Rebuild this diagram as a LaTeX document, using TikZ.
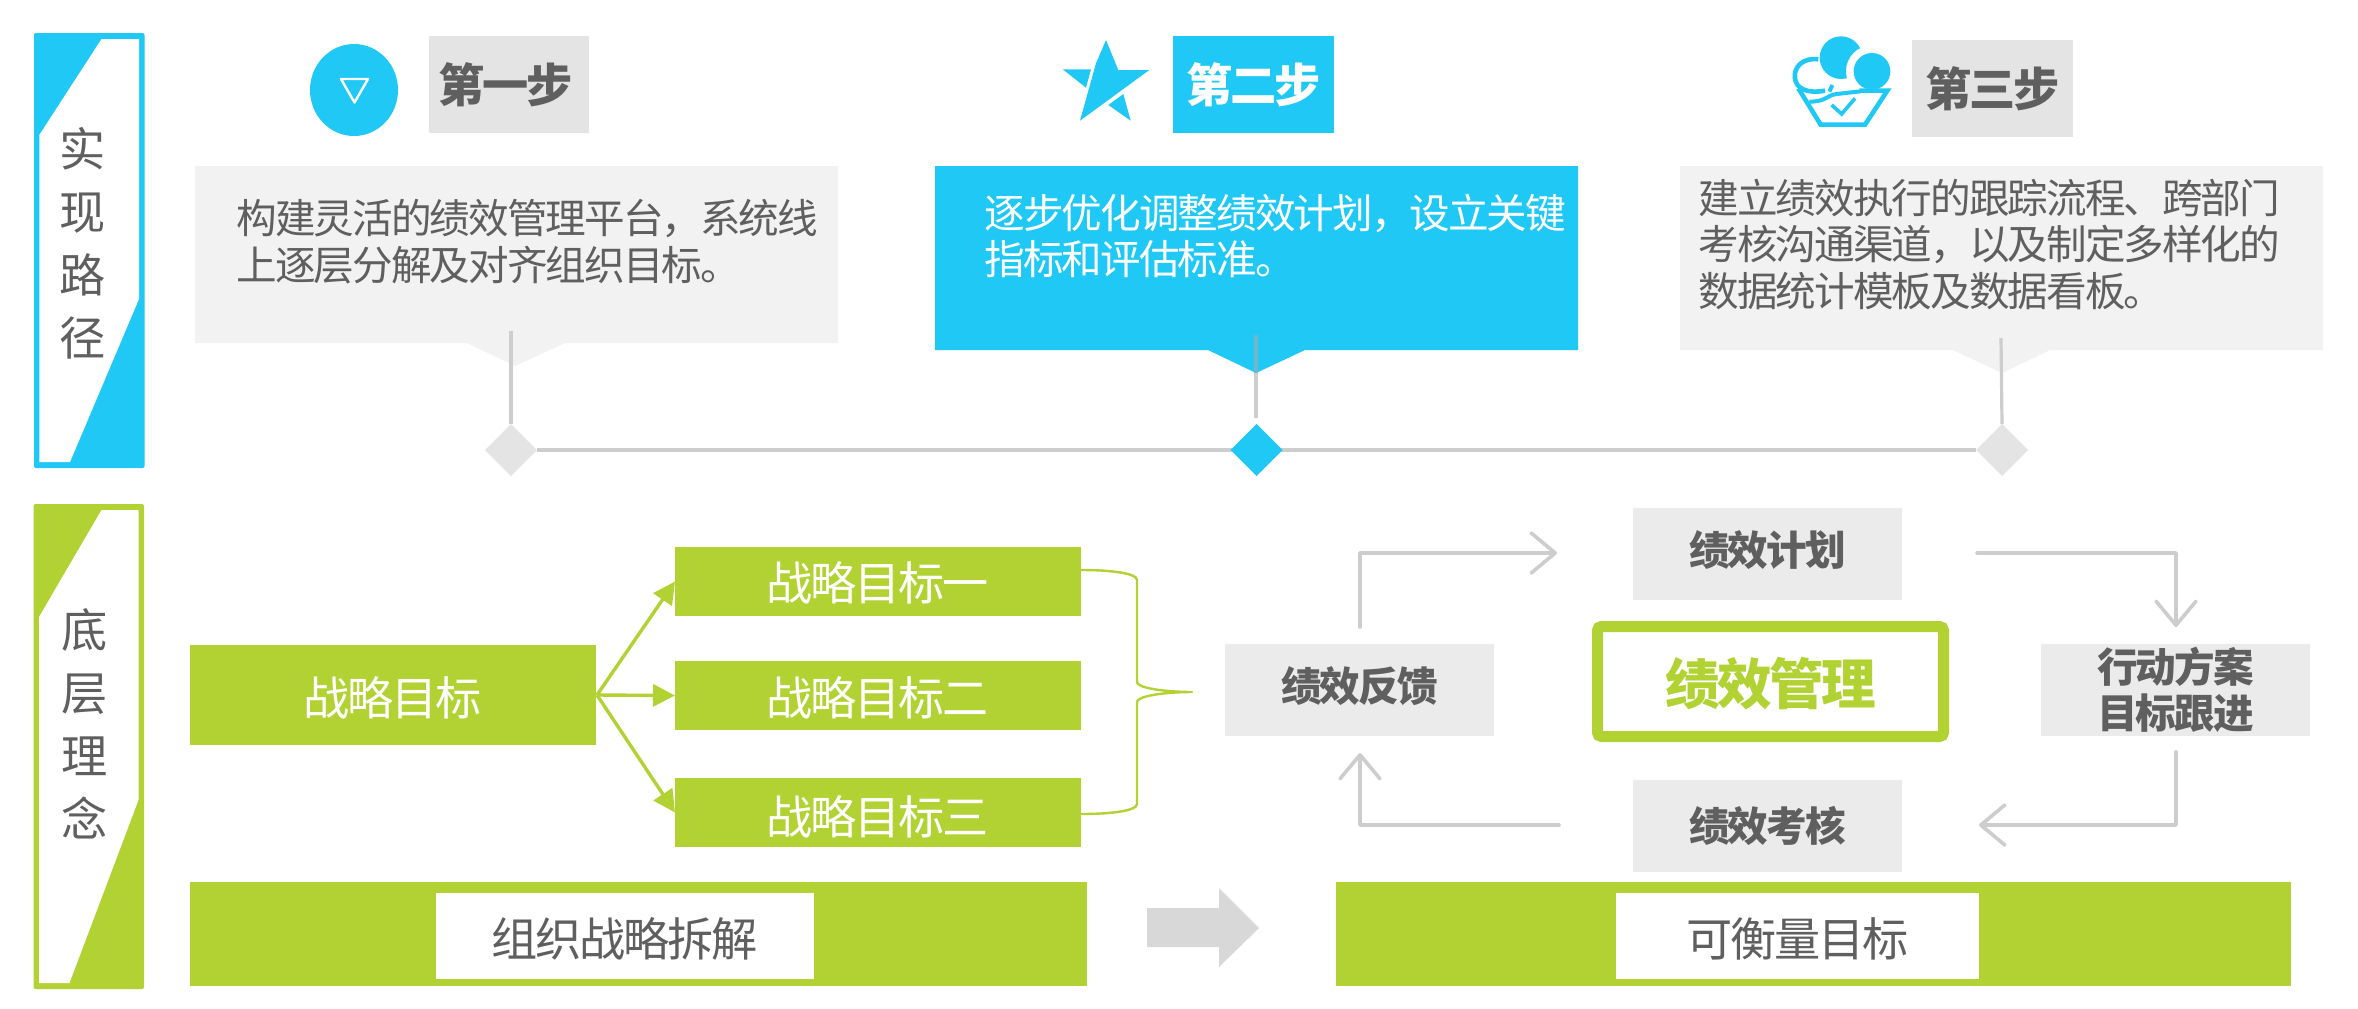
\documentclass[tikz,border=0pt]{standalone}
\usepackage{fontspec}
\setmainfont{Noto Sans CJK SC}[LetterSpace=-4.8]
\usetikzlibrary{shapes.geometric,arrows.meta}
\definecolor{bl}{HTML}{1FC8F5}
\definecolor{gn}{HTML}{B1D232}
\definecolor{tx}{HTML}{5F5F5F}
\definecolor{lg}{HTML}{F2F2F2}
\definecolor{mg}{HTML}{EBEBEB}
\definecolor{hg}{HTML}{E4E4E4}
\definecolor{ln}{HTML}{CDCDCD}
\tikzset{
  sz/.style 2 args={minimum width=#1*0.5pt,minimum height=#2*0.5pt},
  base/.style={inner sep=0pt,outer sep=0pt,text=tx},
  boxn/.style={base,rectangle},
  bigt/.style={base,font=\fontsize{23.1}{31.5}\selectfont,align=center},
  bigs/.style={text height=20.8pt+#1*1pt,text depth=3.2pt-#1*1pt},
  bodyt/.style={base,font=\fontsize{20.3}{23.35}\selectfont,align=left,anchor=west},
  stept/.style={base,font=\bfseries\fontsize{23.1}{26}\selectfont},
  cyct/.style={base,font=\bfseries\fontsize{20.3}{23}\selectfont,align=center},
  cycs/.style={text height=17.7pt+#1*1pt,text depth=2.3pt-#1*1pt},
  dia/.style={base,diamond,aspect=1,minimum width=26pt,minimum height=26pt},
  vline/.style={draw=ln,line width=1.6pt},
  loop/.style={draw=ln,line width=1.8pt,line cap=round,line join=round,-{Straight Barb[length=12pt,width=20pt,line width=1.8pt,round]}},
  garrow/.style={draw=gn,line width=1.7pt,-{Triangle[length=11pt,width=11pt]}}
}
\begin{document}
\begin{tikzpicture}[x=0.5pt,y=-0.5pt]
\useasboundingbox (0,0) rectangle (2358,1008);
\fill[white] (0,0) rectangle (2358,1008);

% side panels
\fill[bl,rounded corners=1pt] (34,33) rectangle (144.5,468);
\fill[white] (101.5,39) -- (139,39) -- (139,299) -- (70,462) -- (39.3,462) -- (39.3,135) -- cycle;
\node[bigt] (side1) at (83,243) {实\\现\\路\\径};
\fill[gn,rounded corners=1pt] (33.5,504) rectangle (144,989);
\fill[white] (101.5,510) -- (138.5,510) -- (138.5,800) -- (69.5,983) -- (39,983) -- (39,617) -- cycle;
\node[bigt] (side2) at (85,724) {底\\层\\理\\念};

% step headers and icons
\fill[bl] (354,90) ellipse (44 and 46);
\draw[white,line width=1.2pt,line join=round] (341,79) -- (368,79) -- (354.5,102.5) -- cycle;
\node[boxn,fill=hg,sz={160}{97},stept] (s1) at (509,84.5) {第一步\hspace*{3pt}};

\fill[bl] (1106,40) -- (1118.3,70) -- (1149.3,70) -- (1080,120.7) -- (1096,63.3) -- cycle;
\fill[bl] (1062.7,69.3) -- (1091,69.3) -- (1086,87.7) -- cycle;
\fill[bl] (1108.3,105) -- (1123.3,94) -- (1130.7,120.7) -- cycle;
\node[boxn,fill=bl,sz={161}{97},stept,text=white] (s2) at (1253.5,84.5) {第二步};

\begin{scope}[shift={(1770,20)},x=0.5pt/3,y=-0.5pt/3]
  \fill[bl] (213,113) circle (64);
  \fill[white] (306,154) circle (78);
  \fill[bl] (306,154) circle (55);
  \draw[bl,line width=2.3pt] (145,118) .. controls (100,112) and (70,140) .. (75,175) .. controls (78,205) and (110,222) .. (165,212);
  \draw[bl,line width=2pt] (187,195) -- (178,215);
  \draw[bl,line width=2.3pt,line join=miter] (85,205) -- (152,314) -- (285,314) -- (352,212) -- (268,212);
  \draw[bl,line width=2pt] (118,245) .. controls (170,245) and (170,225) .. (200,222) -- (272,214);
  \draw[bl,line width=1.8pt] (185,255) -- (215,282) -- (255,235);
\end{scope}
\node[boxn,fill=hg,sz={161}{97},stept] (s3) at (1992.5,88.5) {第三步};

% callouts
\fill[lg] (195,166) -- (838,166) -- (838,343) -- (565,343) -- (515,366) -- (467,343) -- (195,343) -- cycle;
\fill[bl] (935,166) -- (1578,166) -- (1578,350) -- (1305,350) -- (1256,373) -- (1208,350) -- (935,350) -- cycle;
\fill[lg] (1680,166) -- (2323,166) -- (2323,350) -- (2050,350) -- (2002,373) -- (1953,350) -- (1680,350) -- cycle;
\node[bodyt] (t1) at (236.5,241.5) {构建灵活的绩效管理平台，系统线\\上逐层分解及对齐组织目标。};
\node[bodyt,text=white] (t2) at (984.5,236) {逐步优化调整绩效计划，设立关键\\指标和评估标准。};
\node[bodyt] (t3) at (1698.5,244.5) {建立绩效执行的跟踪流程、跨部门\\考核沟通渠道，以及制定多样化的\\数据统计模板及数据看板。};

% timeline
\node[dia,fill=hg] (d1) at (511,450) {};
\node[dia,fill=hg] (d3) at (2002,450) {};
\draw[draw=hg!90!black,line width=1.7pt] (d1.east) -- (d3.west);
\node[dia,fill=bl] (d2) at (1256.5,450) {};
\coordinate (c1) at (511,331);
\coordinate (c2) at (1256,335);
\coordinate (c2a) at (1256,373);
\coordinate (c2b) at (1256,418);
\coordinate (c3) at (2001,338);
\draw[vline] (c1) -- (d1.north);
\draw[vline,draw=ln!55!bl!90!black] (c2) -- (c2a);
\draw[vline] (c2a) -- (c2b);
\draw[vline] (c3) -- (d3.north);

% strategy tree
\node[boxn,fill=gn,sz={406}{100},bigt,bigs=1.5,text=white] (goal) at (393,695) {战略目标};
\node[boxn,fill=gn,sz={406}{69},bigt,bigs=0.75,text=white] (g1) at (878,581.5) {战略目标一};
\node[boxn,fill=gn,sz={406}{69},bigt,bigs=1.25,text=white] (g2) at (878,695.5) {战略目标二};
\node[boxn,fill=gn,sz={406}{69},bigt,bigs=2.25,text=white] (g3) at (878,812.5) {战略目标三};
\coordinate (gs) at (597,695);
\draw[garrow] (gs) -- (g1.west);
\draw[garrow] (gs) -- (g2.west);
\draw[garrow] (gs) -- (g3.west);
\coordinate (brT) at (1081,570);
\coordinate (brB) at (1081,814);
\coordinate (brC) at (1192,692);
\draw[gn,line width=1.2pt,line join=round,line cap=round] (brT) .. controls (1110,570) and (1137,573) .. (1137,580) -- (1137,682) .. controls (1137,688) and (1165,692) .. (brC) .. controls (1165,692) and (1137,696) .. (1137,702) -- (1137,804) .. controls (1137,811) and (1110,814) .. (brB);

% management cycle
\node[boxn,fill=mg,sz={269}{92},cyct,cycs=-2] (fb) at (1359.5,690) {绩效反馈};
\node[boxn,fill=mg,sz={269}{92},cyct,cycs=-2] (pl) at (1767.5,554) {绩效计划};
\node[boxn,fill=mg,sz={269}{92},cyct,cycs=0] (ev) at (1767.5,826) {绩效考核};
\node[boxn,fill=mg,sz={269}{92},cyct] (ac) at (2175.5,690) {行动方案\\目标跟进};
\node[boxn,draw=gn,line width=5.5pt,rounded corners=2pt,fill=white,sz={346}{110},font=\bfseries\fontsize{27.3}{30}\selectfont,text=gn,text height=23.4pt,text depth=-2.4pt] (mg) at (1770.5,681.5) {绩效管理};
\coordinate (a1) at (1360,627);
\coordinate (a1m) at (1360,553);
\coordinate (a1e) at (1557,553);
\coordinate (a2) at (1977,553);
\coordinate (a2m) at (2176,553);
\coordinate (a2e) at (2176,627);
\coordinate (a3) at (2176,752);
\coordinate (a3m) at (2176,825);
\coordinate (a3e) at (1979,825);
\coordinate (a4) at (1559,825);
\coordinate (a4m) at (1360,825);
\coordinate (a4e) at (1360,753);
\draw[loop] (a1) -- (a1m) -- (a1e);
\draw[loop] (a2) -- (a2m) -- (a2e);
\draw[loop] (a3) -- (a3m) -- (a3e);
\draw[loop] (a4) -- (a4m) -- (a4e);

% bottom bars
\fill[gn] (190,882) rectangle (1087,986);
\node[boxn,fill=white,sz={378}{86},bigt,bigs=1.5] (bar1) at (625,936) {组织战略拆解};
\fill[gn] (1336,882) rectangle (2291,986);
\node[boxn,fill=white,sz={363}{86},bigt,bigs=1.5] (bar2) at (1797.5,936) {可衡量目标};
\fill[hg!95!black] (1147,908) -- (1219,908) -- (1219,888) -- (1259,928) -- (1219,967) -- (1219,947) -- (1147,947) -- cycle;
\end{tikzpicture}
\end{document}
